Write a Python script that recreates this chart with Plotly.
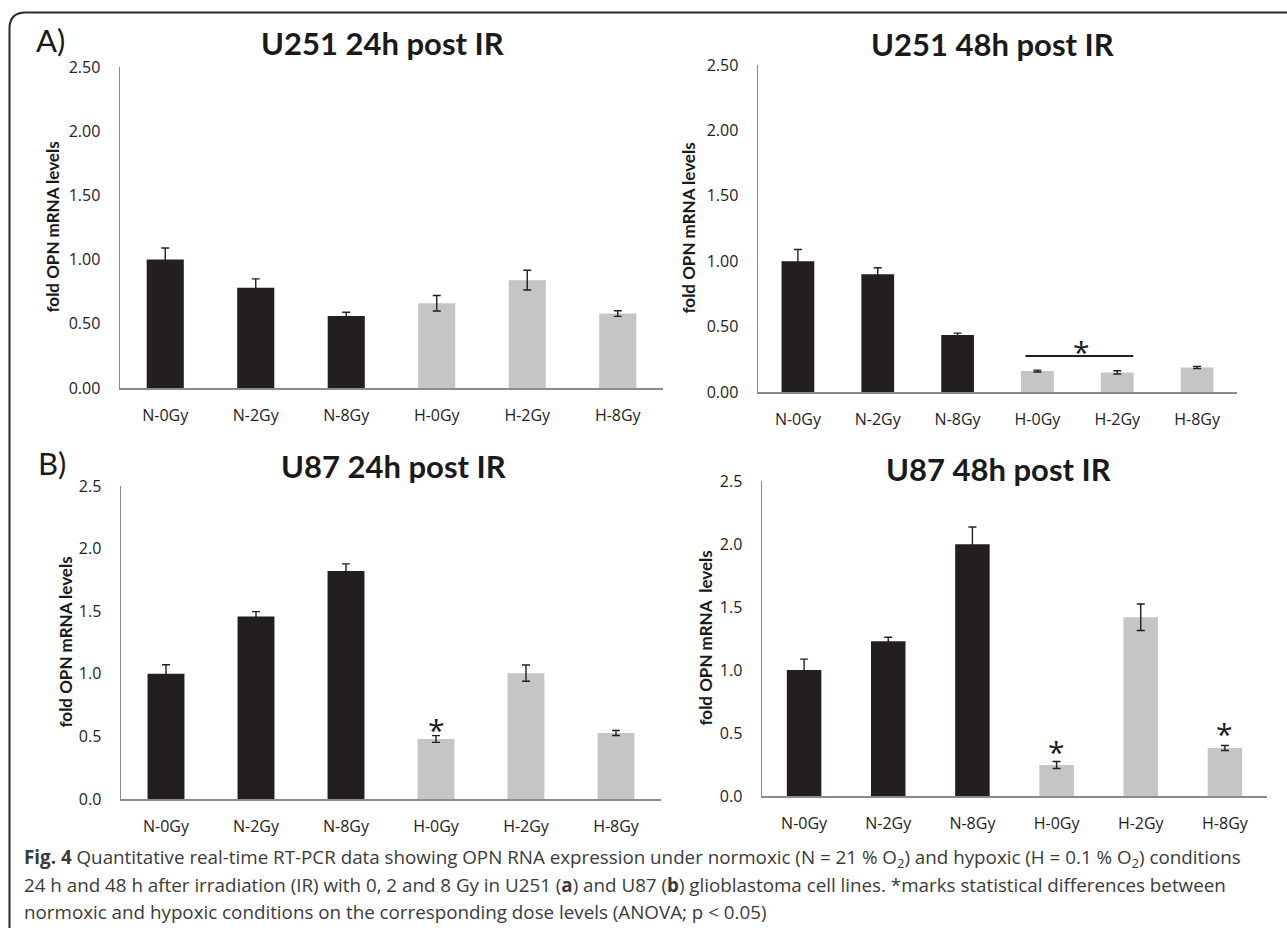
import plotly.graph_objects as go

W, H = 1287, 928

# ---------------- data ----------------
categories = ["N-0Gy", "N-2Gy", "N-8Gy", "H-0Gy", "H-2Gy", "H-8Gy"]

u251_24h = [1.00, 0.78, 0.56, 0.66, 0.84, 0.58]
u251_24h_err = [0.09, 0.07, 0.03, 0.06, 0.077, 0.022]

u251_48h = [1.00, 0.90, 0.435, 0.16, 0.15, 0.188]
u251_48h_err = [0.09, 0.05, 0.015, 0.007, 0.012, 0.008]

u87_24h = [1.00, 1.457, 1.822, 0.479, 1.005, 0.527]
u87_24h_err = [0.072, 0.04, 0.056, 0.027, 0.065, 0.02]

u87_48h = [1.00, 1.229, 1.998, 0.246, 1.419, 0.381]
u87_48h_err = [0.086, 0.031, 0.137, 0.028, 0.105, 0.02]

titles = ["U251 24h post IR", "U251 48h post IR", "U87 24h post IR", "U87 48h post IR"]
y_titles = ["fold OPN mRNA levels", "fold OPN mRNA levels",
            "fold OPN mRNA levels", "fold OPN mRNA  levels"]
y_ticks = [0, 0.5, 1.0, 1.5, 2.0, 2.5]

# significance marks: (panel index, category position, value)
stars = [(1, 3.55, 0.36), (2, 3, 0.615), (3, 3, 0.405), (3, 5, 0.548)]

caption_lines = [
    "<b>Fig. 4</b> Quantitative real-time RT-PCR data showing OPN RNA expression under normoxic (N = 21 % O<sub>2</sub>) and hypoxic (H = 0.1 % O<sub>2</sub>) conditions",
    "24 h and 48 h after irradiation (IR) with 0, 2 and 8 Gy in U251 (<b>a</b>) and U87 (<b>b</b>) glioblastoma cell lines. *marks statistical differences between",
    "normoxic and hypoxic conditions on the corresponding dose levels (ANOVA; p &lt; 0.05)",
]

# ---------------- styling / layout helpers ----------------
BLACK = "#231f20"
GREY = "#c4c5c7"
AXIS = "#8a8a8a"
TFONT = "Lato"
LFONT = "Open Sans"


def fx(x):
    return x / W


def fy(y):
    return 1 - y / H


# pixel boxes of the four plot areas: (x0, x1, ytop, ybottom)
boxes = [(120, 663, 67, 388), (758, 1237, 65, 392), (121, 661, 486, 799), (762, 1267, 481, 796)]
title_pos = [(382, 43), (992, 44), (394, 466), (998, 469)]
ytitle_x = [52, 688, 65, 705]
tick_fmt = [".2f", ".2f", ".1f", ".1f"]

series = [(u251_24h, u251_24h_err), (u251_48h, u251_48h_err),
          (u87_24h, u87_24h_err), (u87_48h, u87_48h_err)]

fig = go.Figure()
colors = [BLACK if c.startswith("N") else GREY for c in categories]

for i, (vals, errs) in enumerate(series):
    suffix = "" if i == 0 else str(i + 1)
    fig.add_trace(go.Bar(
        x=categories, y=vals,
        marker=dict(color=colors, line=dict(width=0)),
        error_y=dict(type="data", array=errs, visible=True,
                     color=BLACK, thickness=1.4, width=4),
        xaxis="x" + suffix, yaxis="y" + suffix,
        showlegend=False, hoverinfo="skip",
    ))

layout = dict(
    width=W, height=H, autosize=False,
    margin=dict(l=0, r=0, t=0, b=0),
    paper_bgcolor="white", plot_bgcolor="white",
    bargap=0.59,
    font=dict(family=LFONT, color="#222"),
    showlegend=False,
)

annotations = []
shapes = []
for i, (x0, x1, yt, yb) in enumerate(boxes):
    suffix = "" if i == 0 else str(i + 1)
    layout["xaxis" + suffix] = dict(
        domain=[fx(x0), fx(x1)], anchor="y" + suffix,
        type="category", range=[-0.5, 5.5],
        showline=True, linecolor=AXIS, linewidth=2,
        showgrid=False, zeroline=False,
        ticks="outside", ticklen=12, tickcolor="rgba(0,0,0,0)",
        tickfont=dict(family=LFONT, size=16, color="#222"),
        automargin=False, fixedrange=True,
    )
    layout["yaxis" + suffix] = dict(
        domain=[fy(yb), fy(yt)], anchor="x" + suffix,
        range=[0, 2.5], tickvals=y_ticks, tickformat=tick_fmt[i],
        showline=True, linecolor=AXIS, linewidth=1.5,
        showgrid=False, zeroline=False,
        ticks="outside", ticklen=15, tickcolor="rgba(0,0,0,0)",
        tickfont=dict(family=LFONT, size=16, color="#222"),
        automargin=False, fixedrange=True,
    )
    tx, ty = title_pos[i]
    annotations.append(dict(
        text="<b>" + titles[i] + "</b>", x=fx(tx), y=fy(ty), xref="paper", yref="paper",
        xanchor="center", yanchor="middle", showarrow=False,
        font=dict(family=TFONT, size=31, color="#1a1a1a"),
    ))
    annotations.append(dict(
        text="<b>" + y_titles[i] + "</b>", x=fx(ytitle_x[i]), y=fy((yt + yb) / 2),
        xref="paper", yref="paper", xanchor="center", yanchor="middle",
        textangle=-90, showarrow=False,
        font=dict(family=TFONT, size=17, color="#1a1a1a"),
    ))

for (p, cx, val) in stars:
    suffix = "" if p == 0 else str(p + 1)
    annotations.append(dict(
        text="*", x=cx, y=val, xref="x" + suffix, yref="y" + suffix,
        xanchor="center", yanchor="middle", yshift=-7, showarrow=False,
        font=dict(family=LFONT, size=30, color="#1a1a1a"),
    ))

# significance bar in U251 48h panel
shapes.append(dict(type="line", xref="x2", yref="y2", x0=2.85, x1=4.2, y0=0.275, y1=0.275,
                   line=dict(color=BLACK, width=2)))

# panel letters
annotations.append(dict(text="A)", x=fx(50), y=fy(40), xref="paper", yref="paper",
                        xanchor="center", yanchor="middle", showarrow=False,
                        font=dict(family=TFONT, size=31, color="#1a1a1a")))
annotations.append(dict(text="B)", x=fx(52), y=fy(463), xref="paper", yref="paper",
                        xanchor="center", yanchor="middle", showarrow=False,
                        font=dict(family=TFONT, size=31, color="#1a1a1a")))

# caption
for j, line in enumerate(caption_lines):
    annotations.append(dict(
        text=line, x=fx(22), y=fy(858 + 27 * j), xref="paper", yref="paper",
        xanchor="left", yanchor="middle", showarrow=False,
        font=dict(family=LFONT, size=18.8, color="#3a3a3a"),
    ))

# rounded frame (top-left corner, open at right and bottom)
r = 16
fl, ft = 9.5, 12.5
path = (f"M {fx(fl)},{fy(H + 20)} L {fx(fl)},{fy(ft + r)} "
        f"Q {fx(fl)},{fy(ft)} {fx(fl + r)},{fy(ft)} L {fx(W + 20)},{fy(ft)}")
shapes.append(dict(type="path", xref="paper", yref="paper", path=path,
                   line=dict(color="#2a2a2a", width=2)))

layout["annotations"] = annotations
layout["shapes"] = shapes
fig.update_layout(**layout)

fig.write_html(
    "out.html",
    config={"displayModeBar": False, "staticPlot": True},
    post_script="document.body.style.margin='0';document.body.style.overflow='hidden';",
)
